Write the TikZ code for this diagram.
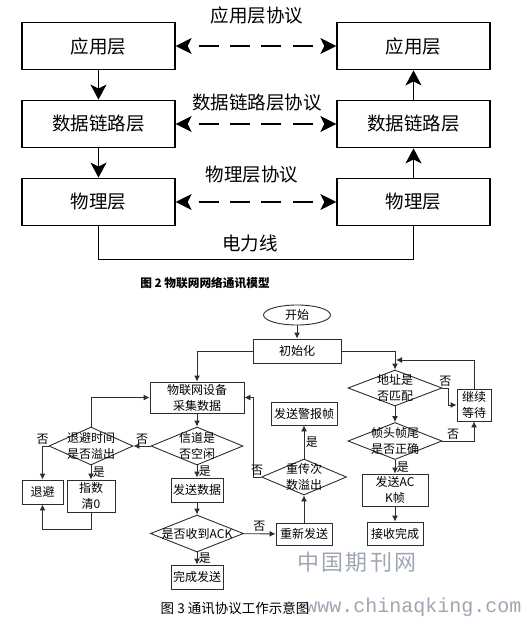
\documentclass[tikz,border=0pt]{standalone}
\usepackage{fontspec}
\setmainfont{Noto Sans CJK SC}
\newfontfamily\filigrane{Liberation Mono}
\usetikzlibrary{quotes,arrows.meta,shapes.geometric}
\definecolor{gris}{RGB}{45,45,45}
\definecolor{filigris}{RGB}{158,166,178}

\begin{document}
\begin{tikzpicture}[x=1bp,y=-1bp,
	couche/.style={draw=black,line width=1.3bp,minimum width=153bp,minimum height=47.5bp,inner sep=0pt,font=\fontsize{18.5bp}{20bp}\selectfont},
	protocole/.style={line width=1.4bp,dash pattern=on 20bp off 11.4bp,dash phase=20bp,{Stealth[length=16bp,width=16bp,inset=4bp]}-{Stealth[length=16bp,width=16bp,inset=4bp]}},
	montee/.style={line width=1.3bp,-{Stealth[length=15bp,width=16bp,inset=4bp]}},
	titre/.style={font=\fontsize{18.5bp}{20bp}\selectfont},
	boite/.style={draw=gris,line width=0.9bp,inner sep=0pt,align=center,font=\fontsize{12bp}{16bp}\selectfont},
	losange/.style={diamond,draw=gris,line width=0.9bp,inner sep=0pt},
	texte/.style={align=center,inner sep=1.5bp,font=\fontsize{12bp}{16bp}\selectfont},
	fl/.style={draw=gris,line width=0.9bp,-{Latex[length=6bp,width=6bp]}},
	every edge quotes/.style={auto,inner sep=1.5bp,font=\fontsize{12bp}{14bp}\selectfont},
]
\useasboundingbox (0,0) rectangle (523,620);
		%\node (nom node) at(x,y) [options] {affichage} ;
		\node (node 1) at(98.5,46) [couche] {应用层} ;
		\node (node 2) at(98.5,124) [couche] {数据链路层} ;
		\node (node 3) at(98.5,202) [couche] {物理层} ;
		\node (node 4) at(413.5,46) [couche] {应用层} ;
		\node (node 5) at(413.5,124) [couche] {数据链路层} ;
		\node (node 6) at(413.5,202) [couche] {物理层} ;
		\node (node 7) at(257,15) [titre] {应用层协议} ;
		\node (node 8) at(257,103) [titre] {数据链路层协议} ;
		\node (node 9) at(252,175) [titre] {物理层协议} ;
		\node (node 10) at(250,243) [titre] {电力线} ;
		\node (node 11) at(205,283) [font=\bfseries\fontsize{11.7bp}{14bp}\selectfont] {图 2 物联网网络通讯模型} ;

		\path
		(node 1) edge[montee] (node 2)
		(node 2) edge[montee] (node 3)
		(node 6) edge[montee] (node 5)
		(node 5) edge[montee] (node 4)
		(node 1) edge[protocole] (node 4)
		(node 2) edge[protocole] (node 5)
		(node 3) edge[protocole] (node 6)
		;
		\draw[line width=1.3bp] (node 3.south) -- ++(0,33) -| (node 6.south);

		%organigramme
		\node (node 12) at(297,315) [ellipse,draw=gris,line width=0.9bp,minimum width=67bp,minimum height=20bp,inner sep=0pt,font=\fontsize{12bp}{16bp}\selectfont] {开始} ;
		\node (node 13) at(297,351) [boite,minimum width=88bp,minimum height=24bp] {初始化} ;
		\node (node 14) at(197,397.5) [boite,minimum width=94bp,minimum height=31bp] {物联网设备\\采集数据} ;
		\node (node 15) at(197,446) [losange,minimum width=92bp,minimum height=38bp,label={[texte]center:信道是\\否空闲}] {} ;
		\node (node 16) at(91,446) [losange,minimum width=84bp,minimum height=38bp,label={[texte]center:退避时间\\是否溢出}] {} ;
		\node (node 17) at(42.5,492) [boite,minimum width=41bp,minimum height=24bp] {退避} ;
		\node (node 18) at(91,496) [boite,minimum width=48bp,minimum height=32bp] {指数\\清0} ;
		\node (node 19) at(197,490) [boite,minimum width=52bp,minimum height=24bp] {发送数据} ;
		\node (node 20) at(197,533.5) [losange,minimum width=93bp,minimum height=37bp,label={[texte]center:是否收到ACK}] {} ;
		\node (node 21) at(197,577) [boite,minimum width=52bp,minimum height=24bp] {完成发送} ;
		\node (node 22) at(304,534) [boite,minimum width=56bp,minimum height=22bp] {重新发送} ;
		\node (node 23) at(304,477) [losange,minimum width=85bp,minimum height=36bp,label={[texte]center:重传次\\数溢出}] {} ;
		\node (node 24) at(304,413.5) [boite,minimum width=66bp,minimum height=23bp] {发送警报帧} ;
		\node (node 25) at(395,388) [losange,minimum width=94bp,minimum height=36bp,label={[texte]center:地址是\\否匹配}] {} ;
		\node (node 26) at(395,441) [losange,minimum width=94bp,minimum height=37bp,label={[texte]center:帧头帧尾\\是否正确}] {} ;
		\node (node 27) at(474,405) [boite,minimum width=34bp,minimum height=32bp] {继续\\等待} ;
		\node (node 28) at(395,490) [boite,minimum width=66bp,minimum height=32bp] {发送AC\\K帧} ;
		\node (node 29) at(395,533.5) [boite,minimum width=56bp,minimum height=23bp] {接收完成} ;
		\coordinate (c1) at(396,360);

		\path
		(node 12) edge[fl] (node 13)
		(node 14) edge[fl] (node 15)
		(node 15) edge[fl,"否"'] (node 16)
		(node 16) edge[fl,"是"] (node 18)
		(node 15) edge[fl,"是"] (node 19)
		(node 19) edge[fl] (node 20)
		(node 20) edge[fl,"否"] (node 22)
		(node 20) edge[fl,"是"] (node 21)
		(node 22) edge[fl] (node 23)
		(node 23) edge[fl,"是"'] (node 24)
		(node 25) edge[fl] (node 26)
		(node 26) edge[fl,"是"] (node 28)
		(node 28) edge[fl] (node 29)
		;
		\draw[fl] (node 13.west) -| (node 14.north);
		\draw[fl] (node 13.east) -| (node 25.north);
		\draw[fl] (node 16.north) |- (node 14.west);
		\draw[fl] (node 16.west) -| node[texte,above,pos=0.5] {否} (node 17.north);
		\draw[fl] (node 18.south) -- ++(0,17) -| (node 17.south);
		\draw[fl] (node 23.west) -- node[texte,above] {否} ++(-8,0) |- (node 14.east);
		\draw[fl] (node 25.east) -- node[texte,above] {否} ++(6,0) |- (node 27.west);
		\draw[fl] (node 26.east) -| node[texte,above,pos=0.17] {否} (node 27.south);
		\draw[fl] (node 27.north) |- (c1);

		\node (node 30) at(357,562) [text=filigris,font=\fontsize{22bp}{24bp}\selectfont] {中\hspace{2.5bp}国\hspace{2.5bp}期\hspace{2.5bp}刊\hspace{2.5bp}网} ;
		\node (node 31) at(413.5,607) [text=filigris,font=\filigrane\fontsize{20bp}{22bp}\selectfont] {www.chinaqking.com} ;
		\node (node 32) at(235,608) [font=\fontsize{13.5bp}{15bp}\selectfont] {图 3 通讯协议工作示意图} ;
\end{tikzpicture}
\end{document}
